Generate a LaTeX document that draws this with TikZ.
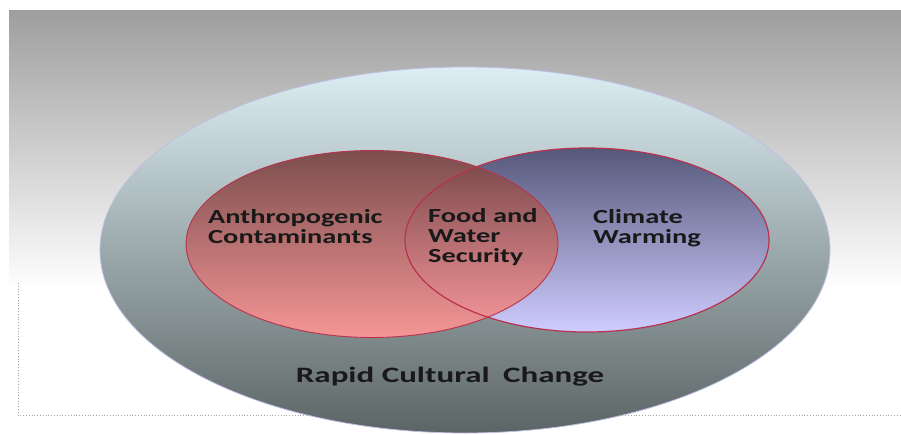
\documentclass[tikz,border=0pt]{standalone}
\usepackage{fontspec}
\setmainfont{Carlito}
\newfontfamily\lblfont[FakeStretch=1.42]{Carlito}
\newfontfamily\capfont[FakeStretch=1.5]{Carlito}
\usepackage{tikz}
\usetikzlibrary{shapes.geometric, positioning}
\definecolor{bgtop}{HTML}{9E9E9E}
\definecolor{outtop}{HTML}{DCEEF3}
\definecolor{outmid}{HTML}{ACC0C4}
\definecolor{outbot}{HTML}{5C6565}
\definecolor{redtop}{HTML}{784444}
\definecolor{redbot}{HTML}{FF9797}
\definecolor{blutop}{HTML}{56587A}
\definecolor{blubot}{HTML}{CFCCFF}
\definecolor{rim}{HTML}{B8324E}
\tikzset{
  outer/.style = {ellipse, minimum width=730pt, minimum height=366pt,
                  inner sep=0pt, draw=cyan!20!blue!25, line width=0.8pt,
                  top color=outtop, middle color=outmid, bottom color=outbot},
  lft/.style   = {ellipse, minimum width=372pt, minimum height=187pt,
                  inner sep=0pt, top color=redtop, bottom color=redbot,
                  fill opacity=0.93},
  rgt/.style   = {ellipse, minimum width=364pt, minimum height=184pt,
                  inner sep=0pt, top color=blutop, bottom color=blubot},
  ring/.style  = {ellipse, inner sep=0pt, draw=rim, line width=1.2pt},
  lbl/.style   = {align=left, font=\lblfont\fontsize{20}{20}\selectfont\bfseries,
                  text=black!90, inner sep=0pt},
}
\begin{document}
\begin{tikzpicture}[x=1pt, y=-1pt]
  \useasboundingbox (0,0) rectangle (901,434);
  \fill[white] (0,0) rectangle (901,434);
  \shade[top color=bgtop, middle color=black!12, bottom color=white]
    (9,10) rectangle (901,290);
  \draw[gray!70, dotted, line width=0.8pt] (18,283) -- (18,415) -- (901,415);
  % sets
  \node[outer] (cult) at (465,250) {};
  \node[rgt] (warm) at (587,240) {};
  \node[lft] (cont) at (372,244) {};
  \node[ring, minimum width=364pt, minimum height=184pt] (warmrim) at (587,240) {};
  \node[ring, line width=0.9pt, minimum width=372pt, minimum height=187pt] (contrim) at (372,244) {};
  % labels
  \node[lbl, anchor=west] (anth) at (208,227) {Anthropogenic\\Contaminants};
  \node[lbl, anchor=west] (food) at (428,237) {Food and\\Water\\Security};
  \node[lbl, anchor=west] (clim) at (593,228) {Climate\\Warming};
  \node[lbl, font=\capfont\fontsize{22}{22}\selectfont\bfseries] (rapid) at (450,377)
    {Rapid Cultural\hspace{6pt} Change};
\end{tikzpicture}
\end{document}
